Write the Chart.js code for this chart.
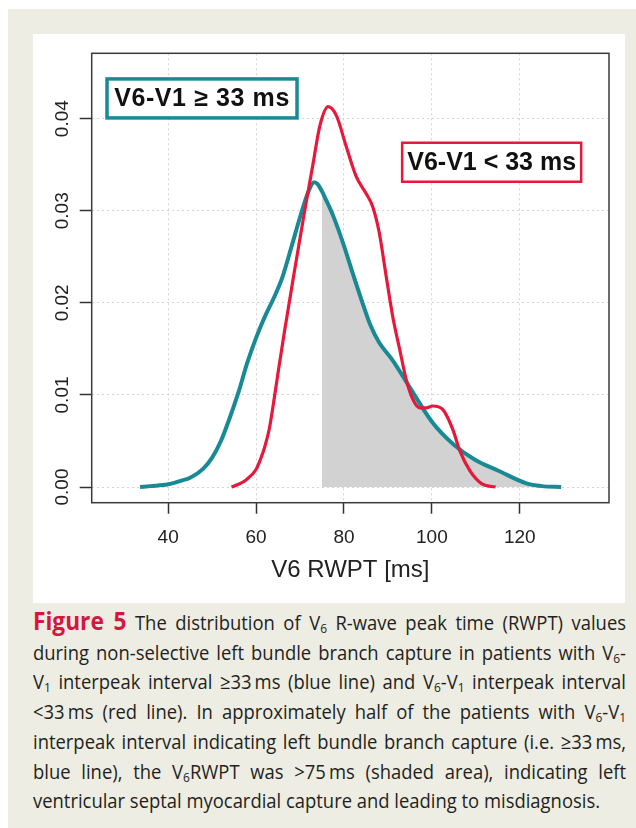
<!DOCTYPE html>
<html>
<head>
<meta charset="utf-8">
<script src="https://cdn.jsdelivr.net/npm/chart.js@4.4.1/dist/chart.umd.min.js"></script>
<style>
html,body{margin:0;padding:0;background:#fff;}
#frame{position:absolute;left:8px;top:9px;width:628px;height:819px;background:#eeede3;}
#panel{position:absolute;left:33px;top:34px;width:592px;height:569px;background:#fff;}
#panel canvas{display:block;}
#caption{position:absolute;left:33px;top:606px;width:593px;height:210px;overflow:visible;}
#inner{position:absolute;left:0;top:0;transform-origin:0 0;font-family:"Open Sans","Liberation Sans",sans-serif;font-size:20px;color:#231f20;line-height:29.7px;}
.ln{white-space:nowrap;text-align:justify;text-align-last:justify;}
.ln.last{text-align-last:left;text-align:left;}
.fig{font-weight:bold;color:#d3173e;font-size:22px;}
sub{font-size:0.65em;vertical-align:-0.25em;line-height:0;}
</style>
</head>
<body>
<div id="frame"></div>
<div id="panel"><canvas id="c" width="592" height="569"></canvas></div>
<div id="caption"><div id="inner">
<div class="ln"><span class="fig">Figure 5</span> The distribution of V<sub>6</sub> R-wave peak time (RWPT) values</div>
<div class="ln">during non-selective left bundle branch capture in patients with V<sub>6</sub>-</div>
<div class="ln">V<sub>1</sub> interpeak interval ≥33&#8201;ms (blue line) and V<sub>6</sub>-V<sub>1</sub> interpeak interval</div>
<div class="ln">&lt;33&#8201;ms (red line). In approximately half of the patients with V<sub>6</sub>-V<sub>1</sub></div>
<div class="ln">interpeak interval indicating left bundle branch capture (i.e. ≥33&#8201;ms,</div>
<div class="ln">blue line), the V<sub>6</sub>RWPT was &gt;75&#8201;ms (shaded area), indicating left</div>
<div class="ln last">ventricular septal myocardial capture and leading to misdiagnosis.</div>
</div></div>
<script>
// ---- data ----
const blueX = [33.6,36,40,43,45,48,50,52,54,56,58,60,62,64,66,68,70,72,73.2,74,75,76,77.5,80,82,84,86,88,91,95,100,105,110,115,121.5,125,129.4];
const blueY = [0,0.0001,0.0003,0.0007,0.0010,0.0020,0.0032,0.0050,0.0075,0.0103,0.0135,0.0162,0.0185,0.0205,0.0228,0.0260,0.0293,0.0322,0.0331,0.0329,0.0321,0.0311,0.0295,0.0262,0.0232,0.0203,0.0176,0.0157,0.0138,0.0108,0.0071,0.0046,0.0029,0.0018,0.0004,0.0001,0];
const redX = [54.4,56,57.8,60,61,62,63,64,65,66.5,68.4,70.7,73,74.5,76.4,78.3,80.5,82.8,85,86.5,88,89.6,91.1,92.7,94.2,95.7,97.2,98.7,100.2,102.5,104.8,106.3,108.6,111.2,114.5];
const redY = [0,0.0003,0.0008,0.0019,0.0030,0.0044,0.0063,0.0092,0.0124,0.0170,0.0225,0.0290,0.0352,0.0392,0.0413,0.0403,0.0370,0.0337,0.0319,0.0305,0.0277,0.0229,0.0185,0.0149,0.0116,0.0095,0.0086,0.0086,0.0088,0.0084,0.0062,0.0040,0.0018,0.0004,0];
const shadeFrom = 75;
const xTicks = [40,60,80,100,120];
const yTicks = [0,0.01,0.02,0.03,0.04];
const yTickLabels = ['0.00','0.01','0.02','0.03','0.04'];
const xTitle = 'V6 RWPT [ms]';
const boxLabels = ['V6-V1 ≥ 33 ms','V6-V1 < 33 ms'];
const boxAnchorX = [47.7,113.6];
const boxAnchorY = [0.0422,0.03527];

// ---- build ----
const TEAL = '#178a95', RED = '#e6193c';
const toPts = (xs, ys) => xs.map((x,i)=>({x:x,y:ys[i]}));
const bluePts = toPts(blueX, blueY);
const shadePts = bluePts.filter(p => p.x >= shadeFrom);

const boxPlugin = {
  id:'frameAndLabels',
  afterDatasetsDraw(chart){
    const {ctx, chartArea:a, scales:{x,y}} = chart;
    ctx.save();
    ctx.strokeStyle = '#3a3a3a'; ctx.lineWidth = 1.5;
    ctx.strokeRect(a.left, a.top, a.right-a.left, a.bottom-a.top);
    ctx.fillStyle = '#222';
    ctx.font = '19px "Liberation Sans", Arial, sans-serif';
    ctx.textAlign = 'center'; ctx.textBaseline = 'middle';
    yTicks.forEach((v,i)=>{
      const py = y.getPixelForValue(v);
      ctx.save(); ctx.translate(a.left-28.5, py); ctx.rotate(-Math.PI/2);
      ctx.fillText(yTickLabels[i],0,0); ctx.restore();
    });
    ctx.font = 'bold 25px "Liberation Sans", Arial, sans-serif';
    const cols = [TEAL, RED], lw = [3.5, 2.5], bw = [190, 179], sp = ['0.6px','0px'];
    boxLabels.forEach((t,i)=>{
      const cx = x.getPixelForValue(boxAnchorX[i]);
      const cy = y.getPixelForValue(boxAnchorY[i]);
      const w = bw[i], h = 39;
      ctx.fillStyle = '#fff';
      ctx.fillRect(cx-w/2, cy-h/2, w, h);
      ctx.strokeStyle = cols[i]; ctx.lineWidth = lw[i];
      ctx.strokeRect(cx-w/2, cy-h/2, w, h);
      ctx.fillStyle = '#111';
      ctx.letterSpacing = sp[i];
      ctx.fillText(t, cx, cy+1);
      ctx.letterSpacing = '0px';
    });
    ctx.restore();
  }
};

Chart.defaults.font.family = '"Liberation Sans", Arial, sans-serif';
new Chart(document.getElementById('c'), {
  type:'line',
  data:{datasets:[
    {data:shadePts, borderWidth:0, borderColor:'rgba(0,0,0,0)', backgroundColor:'#d2d2d2', fill:'origin', pointRadius:0, cubicInterpolationMode:'monotone', order:3},
    {data:bluePts, borderColor:TEAL, borderWidth:4, fill:false, pointRadius:0, cubicInterpolationMode:'monotone', order:2},
    {data:toPts(redX, redY), borderColor:RED, borderWidth:3.2, fill:false, pointRadius:0, cubicInterpolationMode:'monotone', order:1}
  ]},
  options:{
    responsive:false, animation:false,
    layout:{padding:{left:0,right:16,top:19.3,bottom:0}},
    plugins:{legend:{display:false}, tooltip:{enabled:false}},
    scales:{
      x:{type:'linear', min:22.6, max:140.3,
        afterBuildTicks:s=>{s.ticks = xTicks.map(v=>({value:v}));},
        afterFit:s=>{s.height = 100.3;},
        ticks:{includeBounds:false, color:'#222', font:{size:19}, padding:12.5, maxRotation:0},
        grid:{color:'#d4d4d4', lineWidth:1, tickColor:'#333', tickWidth:1.5, tickLength:11},
        border:{display:false, dash:[2,3]},
        title:{display:true, text:xTitle, color:'#222', font:{size:24}, padding:{top:0,bottom:18}}
      },
      y:{type:'linear', min:-0.0017, max:0.0471,
        afterBuildTicks:s=>{s.ticks = yTicks.map(v=>({value:v}));},
        afterFit:s=>{s.width = 58.7;},
        ticks:{includeBounds:false, color:'rgba(0,0,0,0)', font:{size:1}},
        grid:{color:'#d4d4d4', lineWidth:1, tickColor:'#333', tickWidth:1.5, tickLength:12},
        border:{display:false, dash:[2,3]}
      }
    }
  },
  plugins:[boxPlugin]
});

// condense the caption horizontally to the reference measure
(function(){
  const inner = document.getElementById('inner');
  const lines = inner.querySelectorAll('.ln');
  const natural = el => { const s=document.createElement('span'); s.innerHTML=el.innerHTML; s.style.whiteSpace='nowrap'; s.style.position='absolute'; s.style.visibility='hidden'; inner.appendChild(s); const w=s.getBoundingClientRect().width; s.remove(); return w; };
  const lastW = natural(lines[lines.length-1]);
  let scale = Math.min(1, 567 / lastW);
  let maxW = 0; lines.forEach(l=>{ maxW = Math.max(maxW, natural(l)); });
  if (maxW*scale > 593) scale = 593/maxW;
  inner.style.width = (593/scale) + 'px';
  inner.style.transform = 'scaleX(' + scale + ')';
  const fig = inner.querySelector('.fig');
  const fw = fig.getBoundingClientRect().width;
  fig.style.fontSize = (22 * 95 / fw) + 'px';
})();
</script>
</body>
</html>
